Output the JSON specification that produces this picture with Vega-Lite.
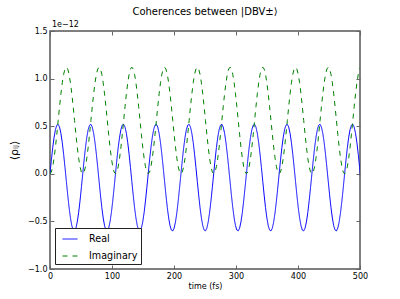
{
  "$schema": "https://vega.github.io/schema/vega-lite/v6.json",
  "width": 310,
  "height": 238,
  "autosize": {"type": "none"},
  "padding": {"left": 50, "top": 31, "right": 40, "bottom": 30},
  "title": {"text": "Coherences between |DBV±⟩", "fontSize": 10, "fontWeight": "normal", "font": "DejaVu Sans", "color": "black", "offset": 4, "anchor": "middle"},
  "data": {"values": [
{"t":0,"Real":0,"Imaginary":0},{"t":2.2,"Real":0.144,"Imaginary":0.019},{"t":4.4,"Real":0.275,"Imaginary":0.075},{"t":6.6,"Real":0.384,"Imaginary":0.164},{"t":8.8,"Real":0.465,"Imaginary":0.28},{"t":11,"Real":0.511,"Imaginary":0.415},{"t":13.2,"Real":0.52,"Imaginary":0.56},{"t":15.4,"Real":0.491,"Imaginary":0.705},{"t":17.6,"Real":0.425,"Imaginary":0.84},{"t":19.8,"Real":0.328,"Imaginary":0.956},{"t":22,"Real":0.205,"Imaginary":1.045},{"t":24.2,"Real":0.066,"Imaginary":1.101},{"t":26.4,"Real":-0.08,"Imaginary":1.12},{"t":28.6,"Real":-0.224,"Imaginary":1.101},{"t":30.8,"Real":-0.355,"Imaginary":1.045},{"t":33,"Real":-0.464,"Imaginary":0.956},{"t":35.2,"Real":-0.545,"Imaginary":0.84},{"t":37.4,"Real":-0.591,"Imaginary":0.705},{"t":39.6,"Real":-0.6,"Imaginary":0.56},{"t":41.8,"Real":-0.571,"Imaginary":0.415},{"t":44,"Real":-0.505,"Imaginary":0.28},{"t":46.2,"Real":-0.408,"Imaginary":0.164},{"t":48.4,"Real":-0.285,"Imaginary":0.075},{"t":50.6,"Real":-0.146,"Imaginary":0.019},
{"t":52.8,"Real":0,"Imaginary":0},{"t":55,"Real":0.144,"Imaginary":0.019},{"t":57.2,"Real":0.275,"Imaginary":0.075},{"t":59.4,"Real":0.384,"Imaginary":0.164},{"t":61.6,"Real":0.465,"Imaginary":0.28},{"t":63.8,"Real":0.511,"Imaginary":0.415},{"t":66,"Real":0.52,"Imaginary":0.56},{"t":68.2,"Real":0.491,"Imaginary":0.705},{"t":70.4,"Real":0.425,"Imaginary":0.84},{"t":72.6,"Real":0.328,"Imaginary":0.956},{"t":74.8,"Real":0.205,"Imaginary":1.045},{"t":77,"Real":0.066,"Imaginary":1.101},{"t":79.2,"Real":-0.08,"Imaginary":1.12},{"t":81.4,"Real":-0.224,"Imaginary":1.101},{"t":83.6,"Real":-0.355,"Imaginary":1.045},{"t":85.8,"Real":-0.464,"Imaginary":0.956},{"t":88,"Real":-0.545,"Imaginary":0.84},{"t":90.2,"Real":-0.591,"Imaginary":0.705},{"t":92.4,"Real":-0.6,"Imaginary":0.56},{"t":94.6,"Real":-0.571,"Imaginary":0.415},{"t":96.8,"Real":-0.505,"Imaginary":0.28},{"t":99,"Real":-0.408,"Imaginary":0.164},{"t":101.2,"Real":-0.285,"Imaginary":0.075},{"t":103.4,"Real":-0.146,"Imaginary":0.019},
{"t":105.6,"Real":0,"Imaginary":0},{"t":107.8,"Real":0.144,"Imaginary":0.019},{"t":110,"Real":0.275,"Imaginary":0.075},{"t":112.2,"Real":0.384,"Imaginary":0.164},{"t":114.4,"Real":0.465,"Imaginary":0.28},{"t":116.6,"Real":0.511,"Imaginary":0.415},{"t":118.8,"Real":0.52,"Imaginary":0.56},{"t":121,"Real":0.491,"Imaginary":0.705},{"t":123.2,"Real":0.425,"Imaginary":0.84},{"t":125.4,"Real":0.328,"Imaginary":0.956},{"t":127.6,"Real":0.205,"Imaginary":1.045},{"t":129.8,"Real":0.066,"Imaginary":1.101},{"t":132,"Real":-0.08,"Imaginary":1.12},{"t":134.2,"Real":-0.224,"Imaginary":1.101},{"t":136.4,"Real":-0.355,"Imaginary":1.045},{"t":138.6,"Real":-0.464,"Imaginary":0.956},{"t":140.8,"Real":-0.545,"Imaginary":0.84},{"t":143,"Real":-0.591,"Imaginary":0.705},{"t":145.2,"Real":-0.6,"Imaginary":0.56},{"t":147.4,"Real":-0.571,"Imaginary":0.415},{"t":149.6,"Real":-0.505,"Imaginary":0.28},{"t":151.8,"Real":-0.408,"Imaginary":0.164},{"t":154,"Real":-0.285,"Imaginary":0.075},{"t":156.2,"Real":-0.146,"Imaginary":0.019},
{"t":158.4,"Real":0,"Imaginary":0},{"t":160.6,"Real":0.144,"Imaginary":0.019},{"t":162.8,"Real":0.275,"Imaginary":0.075},{"t":165,"Real":0.384,"Imaginary":0.164},{"t":167.2,"Real":0.465,"Imaginary":0.28},{"t":169.4,"Real":0.511,"Imaginary":0.415},{"t":171.6,"Real":0.52,"Imaginary":0.56},{"t":173.8,"Real":0.491,"Imaginary":0.705},{"t":176,"Real":0.425,"Imaginary":0.84},{"t":178.2,"Real":0.328,"Imaginary":0.956},{"t":180.4,"Real":0.205,"Imaginary":1.045},{"t":182.6,"Real":0.066,"Imaginary":1.101},{"t":184.8,"Real":-0.08,"Imaginary":1.12},{"t":187,"Real":-0.224,"Imaginary":1.101},{"t":189.2,"Real":-0.355,"Imaginary":1.045},{"t":191.4,"Real":-0.464,"Imaginary":0.956},{"t":193.6,"Real":-0.545,"Imaginary":0.84},{"t":195.8,"Real":-0.591,"Imaginary":0.705},{"t":198,"Real":-0.6,"Imaginary":0.56},{"t":200.2,"Real":-0.571,"Imaginary":0.415},{"t":202.4,"Real":-0.505,"Imaginary":0.28},{"t":204.6,"Real":-0.408,"Imaginary":0.164},{"t":206.8,"Real":-0.285,"Imaginary":0.075},{"t":209,"Real":-0.146,"Imaginary":0.019},
{"t":211.2,"Real":0,"Imaginary":0},{"t":213.4,"Real":0.144,"Imaginary":0.019},{"t":215.6,"Real":0.275,"Imaginary":0.075},{"t":217.8,"Real":0.384,"Imaginary":0.164},{"t":220,"Real":0.465,"Imaginary":0.28},{"t":222.2,"Real":0.511,"Imaginary":0.415},{"t":224.4,"Real":0.52,"Imaginary":0.56},{"t":226.6,"Real":0.491,"Imaginary":0.705},{"t":228.8,"Real":0.425,"Imaginary":0.84},{"t":231,"Real":0.328,"Imaginary":0.956},{"t":233.2,"Real":0.205,"Imaginary":1.045},{"t":235.4,"Real":0.066,"Imaginary":1.101},{"t":237.6,"Real":-0.08,"Imaginary":1.12},{"t":239.8,"Real":-0.224,"Imaginary":1.101},{"t":242,"Real":-0.355,"Imaginary":1.045},{"t":244.2,"Real":-0.464,"Imaginary":0.956},{"t":246.4,"Real":-0.545,"Imaginary":0.84},{"t":248.6,"Real":-0.591,"Imaginary":0.705},{"t":250.8,"Real":-0.6,"Imaginary":0.56},{"t":253,"Real":-0.571,"Imaginary":0.415},{"t":255.2,"Real":-0.505,"Imaginary":0.28},{"t":257.4,"Real":-0.408,"Imaginary":0.164},{"t":259.6,"Real":-0.285,"Imaginary":0.075},{"t":261.8,"Real":-0.146,"Imaginary":0.019},
{"t":264,"Real":0,"Imaginary":0},{"t":266.2,"Real":0.144,"Imaginary":0.019},{"t":268.4,"Real":0.275,"Imaginary":0.075},{"t":270.6,"Real":0.384,"Imaginary":0.164},{"t":272.8,"Real":0.465,"Imaginary":0.28},{"t":275,"Real":0.511,"Imaginary":0.415},{"t":277.2,"Real":0.52,"Imaginary":0.56},{"t":279.4,"Real":0.491,"Imaginary":0.705},{"t":281.6,"Real":0.425,"Imaginary":0.84},{"t":283.8,"Real":0.328,"Imaginary":0.956},{"t":286,"Real":0.205,"Imaginary":1.045},{"t":288.2,"Real":0.066,"Imaginary":1.101},{"t":290.4,"Real":-0.08,"Imaginary":1.12},{"t":292.6,"Real":-0.224,"Imaginary":1.101},{"t":294.8,"Real":-0.355,"Imaginary":1.045},{"t":297,"Real":-0.464,"Imaginary":0.956},{"t":299.2,"Real":-0.545,"Imaginary":0.84},{"t":301.4,"Real":-0.591,"Imaginary":0.705},{"t":303.6,"Real":-0.6,"Imaginary":0.56},{"t":305.8,"Real":-0.571,"Imaginary":0.415},{"t":308,"Real":-0.505,"Imaginary":0.28},{"t":310.2,"Real":-0.408,"Imaginary":0.164},{"t":312.4,"Real":-0.285,"Imaginary":0.075},{"t":314.6,"Real":-0.146,"Imaginary":0.019},
{"t":316.8,"Real":0,"Imaginary":0},{"t":319,"Real":0.144,"Imaginary":0.019},{"t":321.2,"Real":0.275,"Imaginary":0.075},{"t":323.4,"Real":0.384,"Imaginary":0.164},{"t":325.6,"Real":0.465,"Imaginary":0.28},{"t":327.8,"Real":0.511,"Imaginary":0.415},{"t":330,"Real":0.52,"Imaginary":0.56},{"t":332.2,"Real":0.491,"Imaginary":0.705},{"t":334.4,"Real":0.425,"Imaginary":0.84},{"t":336.6,"Real":0.328,"Imaginary":0.956},{"t":338.8,"Real":0.205,"Imaginary":1.045},{"t":341,"Real":0.066,"Imaginary":1.101},{"t":343.2,"Real":-0.08,"Imaginary":1.12},{"t":345.4,"Real":-0.224,"Imaginary":1.101},{"t":347.6,"Real":-0.355,"Imaginary":1.045},{"t":349.8,"Real":-0.464,"Imaginary":0.956},{"t":352,"Real":-0.545,"Imaginary":0.84},{"t":354.2,"Real":-0.591,"Imaginary":0.705},{"t":356.4,"Real":-0.6,"Imaginary":0.56},{"t":358.6,"Real":-0.571,"Imaginary":0.415},{"t":360.8,"Real":-0.505,"Imaginary":0.28},{"t":363,"Real":-0.408,"Imaginary":0.164},{"t":365.2,"Real":-0.285,"Imaginary":0.075},{"t":367.4,"Real":-0.146,"Imaginary":0.019},
{"t":369.6,"Real":0,"Imaginary":0},{"t":371.8,"Real":0.144,"Imaginary":0.019},{"t":374,"Real":0.275,"Imaginary":0.075},{"t":376.2,"Real":0.384,"Imaginary":0.164},{"t":378.4,"Real":0.465,"Imaginary":0.28},{"t":380.6,"Real":0.511,"Imaginary":0.415},{"t":382.8,"Real":0.52,"Imaginary":0.56},{"t":385,"Real":0.491,"Imaginary":0.705},{"t":387.2,"Real":0.425,"Imaginary":0.84},{"t":389.4,"Real":0.328,"Imaginary":0.956},{"t":391.6,"Real":0.205,"Imaginary":1.045},{"t":393.8,"Real":0.066,"Imaginary":1.101},{"t":396,"Real":-0.08,"Imaginary":1.12},{"t":398.2,"Real":-0.224,"Imaginary":1.101},{"t":400.4,"Real":-0.355,"Imaginary":1.045},{"t":402.6,"Real":-0.464,"Imaginary":0.956},{"t":404.8,"Real":-0.545,"Imaginary":0.84},{"t":407,"Real":-0.591,"Imaginary":0.705},{"t":409.2,"Real":-0.6,"Imaginary":0.56},{"t":411.4,"Real":-0.571,"Imaginary":0.415},{"t":413.6,"Real":-0.505,"Imaginary":0.28},{"t":415.8,"Real":-0.408,"Imaginary":0.164},{"t":418,"Real":-0.285,"Imaginary":0.075},{"t":420.2,"Real":-0.146,"Imaginary":0.019},
{"t":422.4,"Real":0,"Imaginary":0},{"t":424.6,"Real":0.144,"Imaginary":0.019},{"t":426.8,"Real":0.275,"Imaginary":0.075},{"t":429,"Real":0.384,"Imaginary":0.164},{"t":431.2,"Real":0.465,"Imaginary":0.28},{"t":433.4,"Real":0.511,"Imaginary":0.415},{"t":435.6,"Real":0.52,"Imaginary":0.56},{"t":437.8,"Real":0.491,"Imaginary":0.705},{"t":440,"Real":0.425,"Imaginary":0.84},{"t":442.2,"Real":0.328,"Imaginary":0.956},{"t":444.4,"Real":0.205,"Imaginary":1.045},{"t":446.6,"Real":0.066,"Imaginary":1.101},{"t":448.8,"Real":-0.08,"Imaginary":1.12},{"t":451,"Real":-0.224,"Imaginary":1.101},{"t":453.2,"Real":-0.355,"Imaginary":1.045},{"t":455.4,"Real":-0.464,"Imaginary":0.956},{"t":457.6,"Real":-0.545,"Imaginary":0.84},{"t":459.8,"Real":-0.591,"Imaginary":0.705},{"t":462,"Real":-0.6,"Imaginary":0.56},{"t":464.2,"Real":-0.571,"Imaginary":0.415},{"t":466.4,"Real":-0.505,"Imaginary":0.28},{"t":468.6,"Real":-0.408,"Imaginary":0.164},{"t":470.8,"Real":-0.285,"Imaginary":0.075},{"t":473,"Real":-0.146,"Imaginary":0.019},
{"t":475.2,"Real":0,"Imaginary":0},{"t":477.4,"Real":0.144,"Imaginary":0.019},{"t":479.6,"Real":0.275,"Imaginary":0.075},{"t":481.8,"Real":0.384,"Imaginary":0.164},{"t":484,"Real":0.465,"Imaginary":0.28},{"t":486.2,"Real":0.511,"Imaginary":0.415},{"t":488.4,"Real":0.52,"Imaginary":0.56},{"t":490.6,"Real":0.491,"Imaginary":0.705},{"t":492.8,"Real":0.425,"Imaginary":0.84},{"t":495,"Real":0.328,"Imaginary":0.956},{"t":497.2,"Real":0.205,"Imaginary":1.045},{"t":499.4,"Real":0.066,"Imaginary":1.101},{"t":501.6,"Real":-0.08,"Imaginary":1.12}
  ]},
  "layer": [
    {
      "transform": [{"fold": ["Real", "Imaginary"], "as": ["series", "value"]}],
      "mark": {"type": "line", "strokeWidth": 1, "clip": true},
      "encoding": {
        "x": {"field": "t", "type": "quantitative", "scale": {"domain": [0, 500], "nice": false},
              "axis": {"values": [0, 100, 200, 300, 400, 500], "title": "time (fs)", "labelPadding": 7, "titlePadding": 2, "labelFlush": false}},
        "y": {"field": "value", "type": "quantitative", "scale": {"domain": [-1, 1.5], "nice": false},
              "axis": {"values": [-1, -0.5, 0, 0.5, 1, 1.5], "format": ".1f", "title": "⟨ρᵢⱼ⟩", "titleFontSize": 11, "labelPadding": 7, "titlePadding": 8, "labelFlush": false}},
        "color": {"field": "series", "type": "nominal", "scale": {"domain": ["Real", "Imaginary"], "range": ["#0000ff", "#008000"]}, "legend": {"title": null}},
        "strokeDash": {"field": "series", "type": "nominal", "scale": {"domain": ["Real", "Imaginary"], "range": [[1, 0], [5, 5]]}, "legend": {"title": null}}
      }
    },
    {
      "data": {"values": [{"label": "1e−12"}]},
      "mark": {"type": "text", "align": "left", "baseline": "bottom", "dx": 2, "dy": -2, "fontSize": 8, "font": "DejaVu Sans", "color": "black"},
      "encoding": {
        "text": {"field": "label"},
        "x": {"datum": 0, "type": "quantitative", "axis": {"orient": "top", "labels": false, "title": null, "values": [0, 100, 200, 300, 400, 500]}},
        "y": {"datum": 1.5, "type": "quantitative", "axis": {"orient": "right", "labels": false, "title": null, "values": [-1, -0.5, 0, 0.5, 1, 1.5]}}
      }
    }
  ],
  "resolve": {"axis": {"x": "independent", "y": "independent"}},
  "config": {
    "font": "DejaVu Sans",
    "view": {"stroke": "#555", "strokeWidth": 1.5},
    "axis": {"domain": false, "grid": false, "tickSize": -4, "tickColor": "#666", "tickWidth": 1, "labelFontSize": 8, "labelColor": "black", "labelFont": "DejaVu Sans", "titleFontSize": 8, "titleFontWeight": "normal", "titleColor": "black", "titleFont": "DejaVu Sans"},
    "legend": {"orient": "bottom-left", "offset": 5, "strokeColor": "#222", "fillColor": "white", "padding": 3, "symbolOffset": 4, "labelFontSize": 9.6, "labelFont": "DejaVu Sans", "labelColor": "black", "symbolType": "stroke", "symbolSize": 225, "symbolStrokeWidth": 1, "rowPadding": 4, "labelOffset": 11, "cornerRadius": 0}
  }
}
